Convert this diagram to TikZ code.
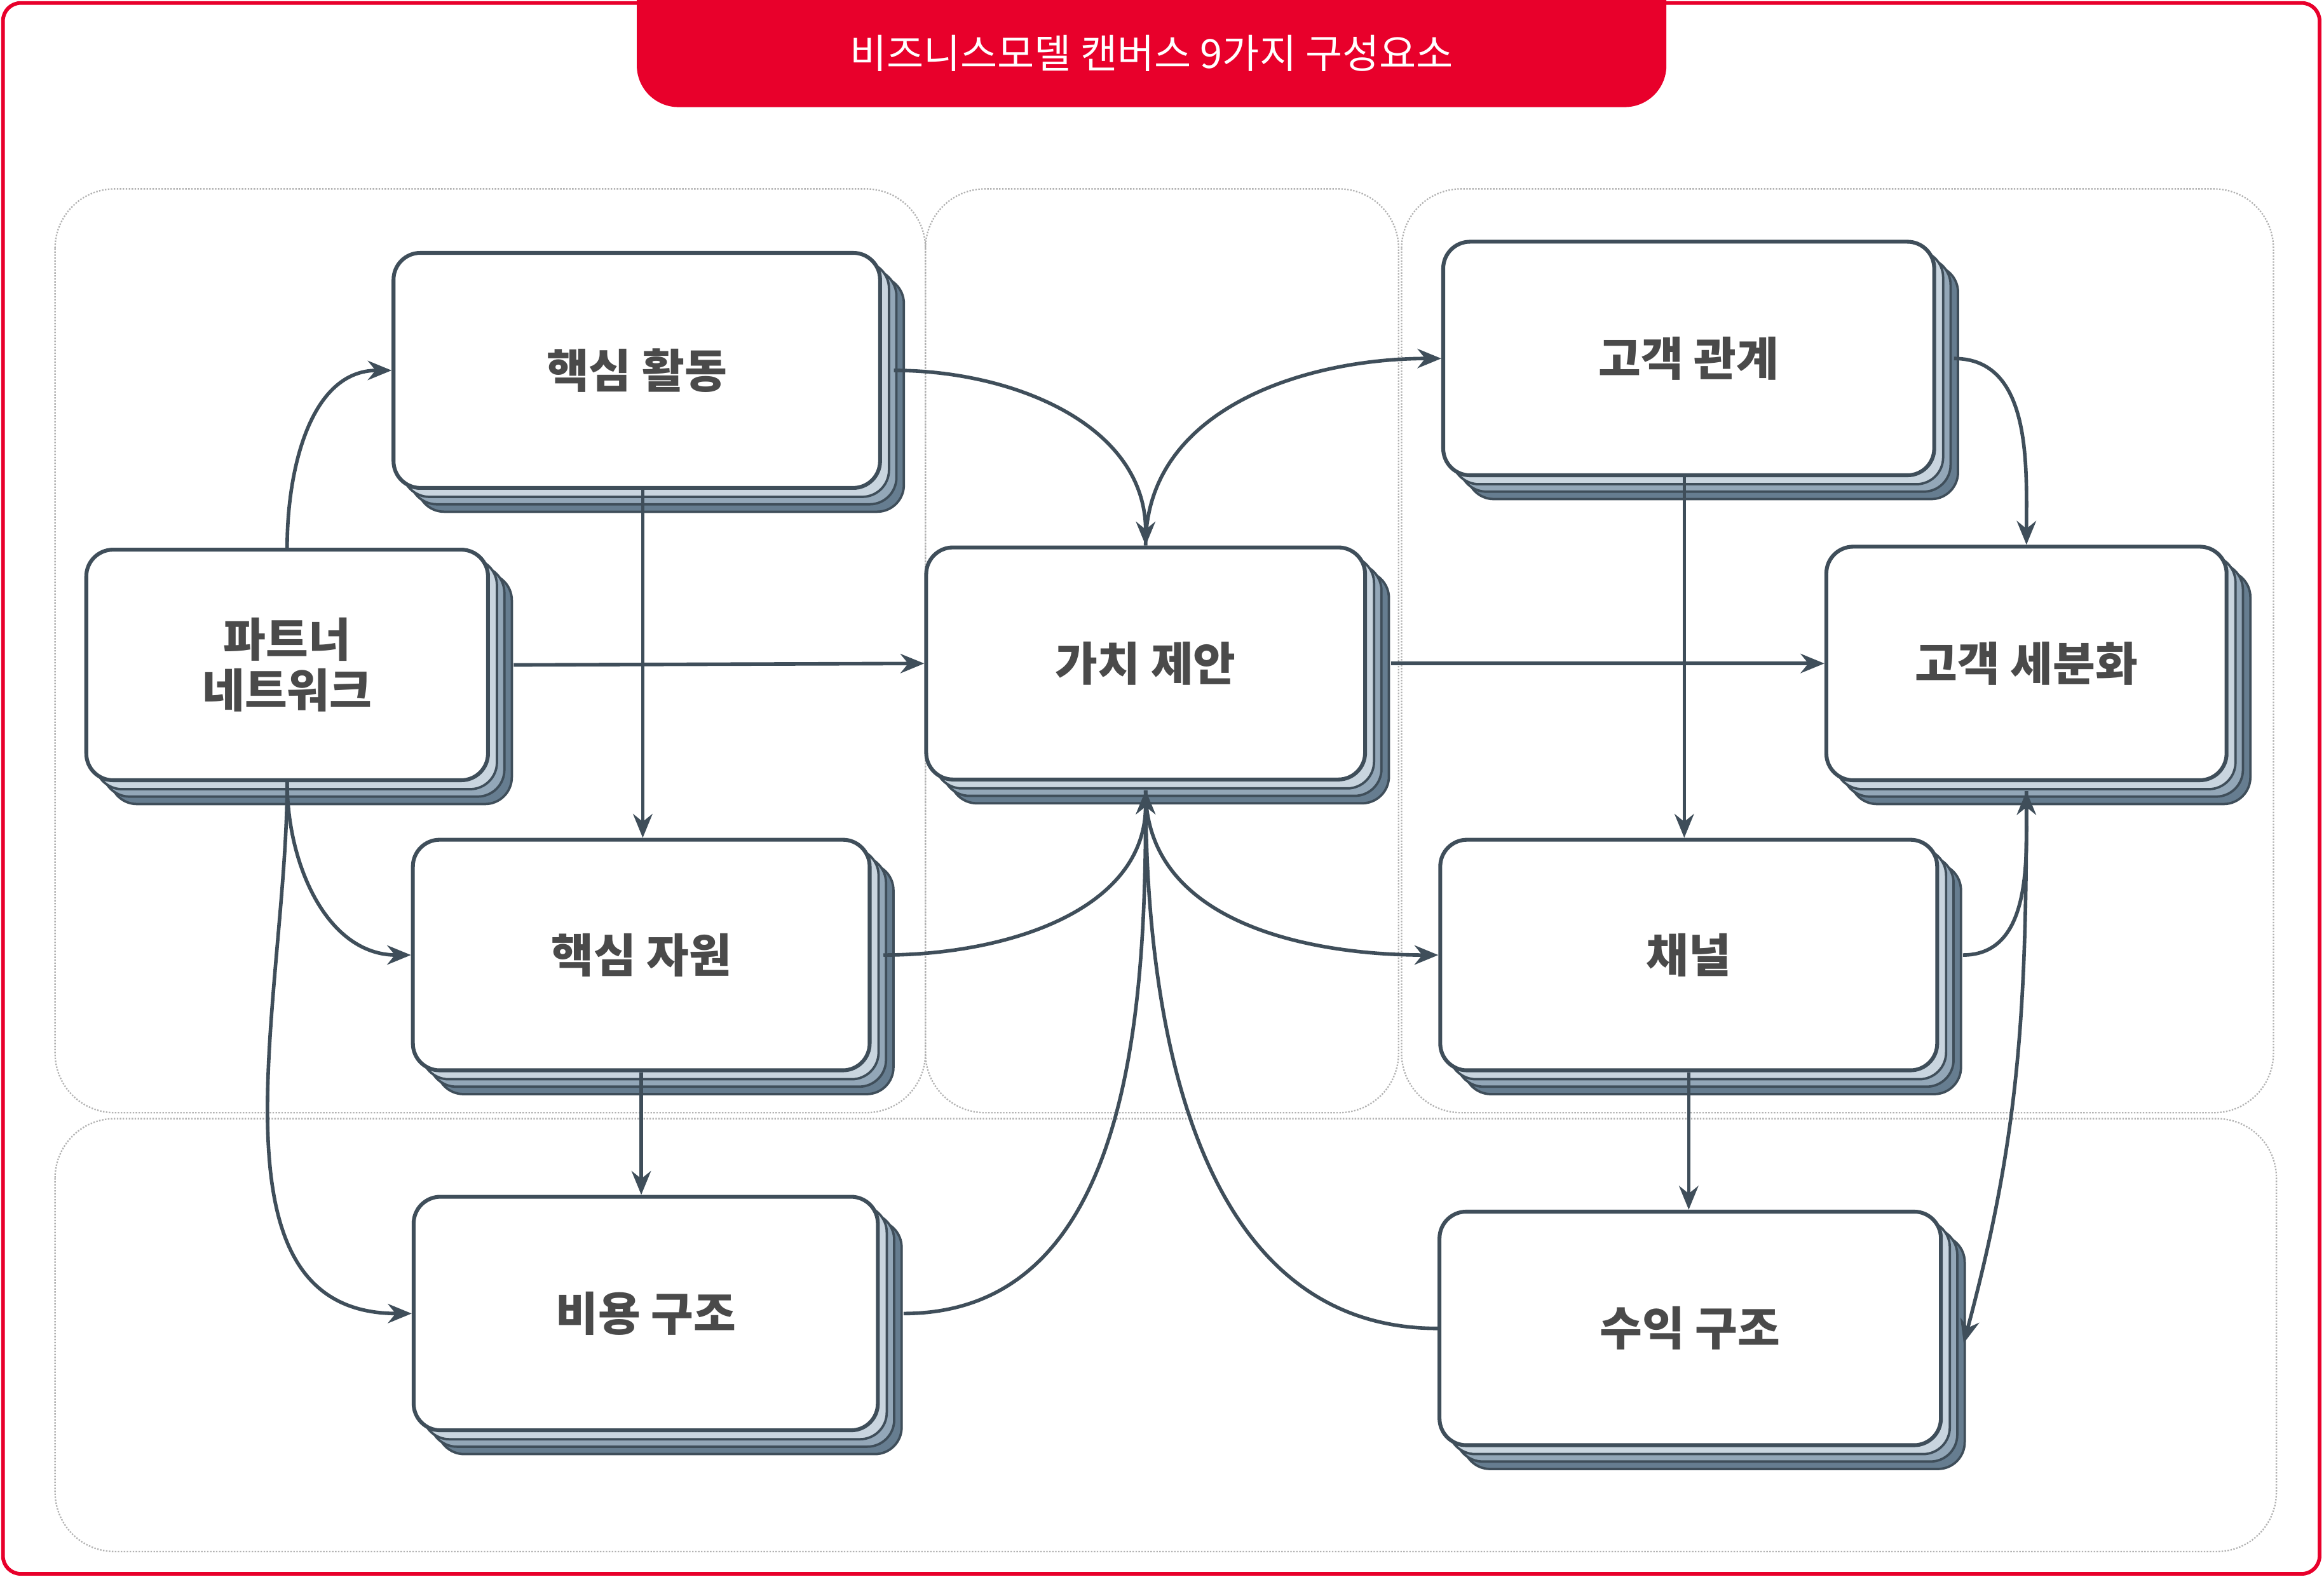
\documentclass[tikz,border=0pt]{standalone}
\usepackage{fontspec}
\setmainfont{Noto Sans CJK KR}
\usetikzlibrary{arrows.meta,calc}
\definecolor{redc}{HTML}{E8002B}
\definecolor{ink}{HTML}{3F4E5A}
\definecolor{txt}{HTML}{4A4A4A}
\definecolor{sh1}{HTML}{C9D5DF}
\definecolor{sh2}{HTML}{93A7B8}
\definecolor{sh3}{HTML}{667D90}
\newcommand\mkcard[6]{%
  \foreach \o/\c in {16/sh3,11/sh2,6/sh1}{
    \filldraw[fill=\c,draw=ink,line width=1.6pt,rounded corners=18pt]
      ($(#2,#3)+(-#4/2+\o,-#5/2+\o)$) rectangle ($(#2,#3)+(#4/2+\o,#5/2+\o)$);}
  \node[card,minimum width=#4pt,minimum height=#5pt] (#1) at (#2,#3) {#6};}
\tikzset{
  card/.style={draw=ink,fill=white,line width=2.6pt,rounded corners=18pt,font=\fontsize{31}{38}\selectfont\bfseries,text=txt,align=center},
  panel/.style={draw=gray!60,densely dotted,line width=1pt,rounded corners=40pt},
  arr/.style={draw=ink,line width=2.4pt,-{Stealth[length=16pt,width=13pt]}},
  ln/.style={draw=ink,line width=2.4pt}
}
\begin{document}
\begin{tikzpicture}[x=1pt,y=-1pt]
\useasboundingbox (0,0) rectangle (1562,1060);
\fill[white] (0,0) rectangle (1562,1060);
\draw[redc,line width=2.5pt,rounded corners=12pt] (2,2) rectangle (1559,1058);
\fill[redc,rounded corners=28pt] (428,-40) rectangle (1120,72);
\node[text=white,font=\fontsize{27}{32}\selectfont] (title) at (774,36) {비즈니스모델 캔버스 9가지 구성요소};
\draw[panel] (37,127) rectangle (622,748);
\draw[panel] (622,127) rectangle (940,748);
\draw[panel] (942,127) rectangle (1528,748);
\draw[panel] (37,752) rectangle (1530,1043);
\mkcard{act}{428}{249}{327}{158}{핵심 활동}
\mkcard{par}{193}{447}{270}{155}{파트너\\[-4pt]네트워크}
\mkcard{res}{431}{642}{307}{155}{핵심 자원}
\mkcard{cost}{434}{883}{312}{157}{비용 구조}
\mkcard{vp}{770}{446}{295}{156}{가치 제안}
\mkcard{cr}{1135}{241}{330}{157}{고객 관계}
\mkcard{cs}{1362}{446}{269}{157}{고객 세분화}
\mkcard{ch}{1135}{642}{334}{155}{채널}
\mkcard{rev}{1136}{893}{337}{157}{수익 구조}
% arrows
\draw[arr] (par.north) to[out=90,in=180] (act.west);
\draw[arr] ([xshift=16pt]par.east) -- (vp.west);
\draw[arr] (par.south) to[out=-90,in=180] (res.west);
\draw[arr] (par.south) to[out=-90,in=180] (cost.west);
\draw[arr] ([xshift=4pt]act.south) -- ([xshift=4pt]act.south |- res.north);
\draw[arr] ([xshift=8pt]act.east) to[out=0,in=90] (vp.north);
\draw[arr] (vp.north) to[out=90,in=180] (cr.west);
\draw[arr] ([xshift=8pt]res.east) to[out=0,in=-90] ([yshift=-6pt]vp.south);
\draw[arr] ([xshift=16pt]cost.east) to[out=0,in=-90] ([yshift=-6pt]vp.south);
\draw[arr] ([yshift=-6pt]vp.south) to[out=-90,in=180] (ch.west);
\draw[ln] (rev.west) to[out=180,in=-90] ([yshift=-6pt]vp.south);
\draw[arr] ([xshift=16pt]vp.east) -- (cs.west);
\draw[arr] ([xshift=-3pt]cr.south) -- ([xshift=-3pt]cr.south |- ch.north);
\draw[arr] ([xshift=12pt]cr.east) to[out=0,in=90] (cs.north);
\draw[arr] ([xshift=16pt]ch.east) to[out=0,in=-90] ([yshift=-6pt]cs.south);
\draw[arr] ([yshift=-6pt]cs.south) to[out=-90,in=75] ([xshift=14pt,yshift=-10pt]rev.east);
\draw[arr] (res.south) -- (res.south |- cost.north);
\draw[arr] (ch.south) -- (ch.south |- rev.north);
\end{tikzpicture}
\end{document}
